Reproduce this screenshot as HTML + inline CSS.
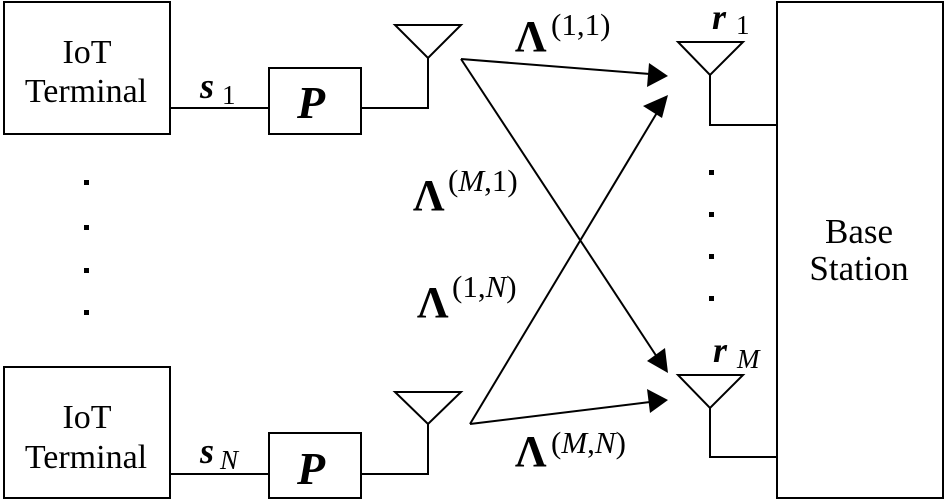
<!DOCTYPE html>
<html><head><meta charset="utf-8"><style>
html,body{margin:0;padding:0;background:#fff;}
svg{display:block;}
text{font-family:"Liberation Serif",serif;fill:#000;}
</style></head><body>
<svg width="945" height="501" viewBox="0 0 945 501" xmlns="http://www.w3.org/2000/svg">
<g fill="none" stroke="#000" stroke-width="2">
<rect x="4" y="2" width="166" height="132"/>
<rect x="4" y="367" width="166" height="131"/>
<rect x="269" y="68" width="92" height="66"/>
<rect x="269" y="433" width="92" height="65"/>
<rect x="777" y="2" width="166" height="496"/>
<line x1="170" y1="108" x2="269" y2="108"/>
<line x1="170" y1="474" x2="269" y2="474"/>
<polyline points="361,108 428,108 428,58"/>
<polygon points="395,25 461,25 428,58"/>
<polyline points="361,474 428,474 428,424"/>
<polygon points="395,392 461,392 428,424"/>
<polygon points="678,42 743,42 710,75"/>
<polyline points="710,75 710,125 777,125"/>
<polygon points="678,375 743,375 710,408"/>
<polyline points="710,408 710,457 777,457"/>
<line x1="461" y1="59" x2="650" y2="74"/>
<line x1="461" y1="59" x2="657" y2="357"/>
<line x1="470" y1="424" x2="658" y2="111"/>
<line x1="470" y1="424" x2="650" y2="402"/>
</g>
<g fill="#000">
<polygon points="668,76 647,87 649,63"/>
<polygon points="668,373 647,361 665,348"/>
<polygon points="668,95 662,118 643,106"/>
<polygon points="668,400 650,413 647,389"/>
<rect x="84" y="180" width="5" height="5"/><rect x="84" y="225" width="5" height="5"/>
<rect x="84" y="268" width="5" height="5"/><rect x="84" y="310" width="5" height="5"/>
<rect x="709" y="170" width="5" height="5"/><rect x="709" y="212" width="5" height="5"/>
<rect x="709" y="254" width="5" height="5"/><rect x="709" y="296" width="5" height="5"/>
</g>
<text x="87" y="63" text-anchor="middle" style="font-size:34px">IoT</text>
<text x="86" y="102" text-anchor="middle" style="font-size:34px">Terminal</text>
<text x="87" y="428" text-anchor="middle" style="font-size:34px">IoT</text>
<text x="86" y="468" text-anchor="middle" style="font-size:34px">Terminal</text>
<text x="859" y="243" text-anchor="middle" style="font-size:35px">Base</text>
<text x="859" y="280" text-anchor="middle" style="font-size:35px">Station</text>

<text x="297" y="118" style="font-size:46px;font-weight:bold;font-style:italic">P</text>
<text x="297" y="484" style="font-size:46px;font-weight:bold;font-style:italic">P</text>
<text x="200" y="98" style="font-size:36px;font-weight:bold;font-style:italic">s</text>
<text x="200" y="463" style="font-size:36px;font-weight:bold;font-style:italic">s</text>
<text x="712" y="29" style="font-size:36px;font-weight:bold;font-style:italic">r</text>
<text x="713" y="362" style="font-size:36px;font-weight:bold;font-style:italic">r</text>

<text x="222" y="104" style="font-size:27px">1</text>
<text x="220" y="469" style="font-size:27px;font-style:italic">N</text>
<text x="736" y="34" style="font-size:27px">1</text>
<text x="737" y="368" style="font-size:27px;font-style:italic">M</text>

<text x="515" y="51" style="font-size:44px;font-weight:bold">Λ</text>
<text x="413" y="210" style="font-size:44px;font-weight:bold">Λ</text>
<text x="417" y="317" style="font-size:44px;font-weight:bold">Λ</text>
<text x="515" y="466" style="font-size:44px;font-weight:bold">Λ</text>

<text x="551" y="35" style="font-size:31px">(1,1)</text>
<text x="448" y="191" style="font-size:31px">(<tspan style="font-style:italic">M</tspan>,1)</text>
<text x="452" y="297" style="font-size:31px">(1,<tspan style="font-style:italic">N</tspan>)</text>
<text x="551" y="453" style="font-size:31px">(<tspan style="font-style:italic">M</tspan>,<tspan style="font-style:italic">N</tspan>)</text>
</svg>
</body></html>
